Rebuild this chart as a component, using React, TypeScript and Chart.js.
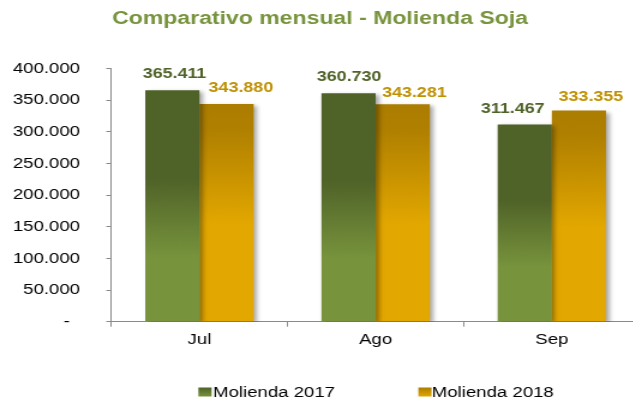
import React, { useEffect, useRef } from 'react';
import { Chart, registerables } from 'chart.js';

Chart.register(...registerables);

// ---- data ----
const months = ['Jul', 'Ago', 'Sep'];
const seriesNames = ['Molienda 2017', 'Molienda 2018'];
const molienda2017 = [365411, 360730, 311467];
const molienda2018 = [343880, 343281, 333355];
const yMin = 0;
const yMax = 400000;
const yStep = 50000;
const zeroTickLabel = '-  ';
const titleText = 'Comparativo mensual - Molienda Soja';

// ---- styling ----
const FONT = "Arial, 'Liberation Sans', sans-serif";
const STRETCH = 1.2; // the reference is horizontally stretched
const CANVAS_W = 540;
const CANVAS_H = 401;
const AXIS_COLOR = '#8a8a8a';

// label nudges relative to each bar (dx in canvas px, dy in px above bar top)
const labelDx = [
  [1.8, 0.5, -10],
  [12, 9.7, 10],
];
const labelDy = [
  [-17.2, -17.4, -17.2],
  [-16.9, -12.9, -14.7],
];

const palettes = [
  {
    stops: [
      [0, '#4F6228'],
      [0.38, '#4F6228'],
      [0.72, '#77933C'],
      [1, '#77933C'],
    ] as [number, string][],
    label: '#4F6228',
  },
  {
    stops: [
      [0, '#AB7D00'],
      [0.12, '#B08000'],
      [0.55, '#E2A700'],
      [1, '#E2A700'],
    ] as [number, string][],
    label: '#BF9000',
  },
];

const fmt = (v: number) =>
  v === 0 ? zeroTickLabel : String(Math.round(v)).replace(/\B(?=(\d{3})+(?!\d))/g, '.');

function barGradient(idx: number) {
  return (ctx: any) => {
    const chart = ctx.chart;
    const { chartArea, scales } = chart;
    const stops = palettes[idx].stops;
    if (!chartArea || !scales || !scales.y || ctx.type !== 'data') return stops[2][1];
    const top = scales.y.getPixelForValue(ctx.raw as number);
    const bottom = scales.y.getPixelForValue(0);
    const g = chart.ctx.createLinearGradient(0, top, 0, bottom);
    stops.forEach(([o, c]) => g.addColorStop(o, c));
    return g;
  };
}

const shadowPlugin = {
  id: 'barShadow',
  beforeDatasetsDraw(chart: any) {
    const c = chart.ctx;
    c.save();
    c.shadowColor = 'rgba(0,0,0,0.35)';
    c.shadowBlur = 4;
    c.shadowOffsetX = 2.5;
    c.shadowOffsetY = 2;
  },
  afterDatasetsDraw(chart: any) {
    chart.ctx.restore();
  },
};

const dataLabelPlugin = {
  id: 'dataLabels',
  afterDatasetsDraw(chart: any) {
    const c = chart.ctx;
    const size = 14.9;
    c.save();
    c.font = `bold ${size}px ${FONT}`;
    c.textAlign = 'center';
    c.textBaseline = 'alphabetic';
    chart.data.datasets.forEach((ds: any, di: number) => {
      const meta = chart.getDatasetMeta(di);
      c.fillStyle = palettes[di].label;
      meta.data.forEach((bar: any, i: number) => {
        const x = bar.x + labelDx[di][i];
        const cy = bar.y + labelDy[di][i];
        c.fillText(fmt(ds.data[i] as number), x, cy + size * 0.358);
      });
    });
    c.restore();
  },
};

const legendPlugin = {
  id: 'customLegend',
  afterDraw(chart: any) {
    const c = chart.ctx;
    const items = [
      { boxX: 165.3, textX: 177.5 },
      { boxX: 348.6, textX: 359.8 },
    ];
    const cy = 392;
    const bw = 11;
    const bh = 9;
    c.save();
    c.font = `15.5px ${FONT}`;
    c.textBaseline = 'middle';
    c.textAlign = 'left';
    chart.data.datasets.forEach((ds: any, di: number) => {
      const it = items[di];
      const g = c.createLinearGradient(0, cy - bh / 2, 0, cy + bh / 2);
      const st = palettes[di].stops;
      g.addColorStop(0, st[0][1]);
      g.addColorStop(1, st[3][1]);
      c.fillStyle = g;
      c.fillRect(it.boxX, cy - bh / 2, bw, bh);
      c.fillStyle = '#000000';
      c.fillText(ds.label, it.textX, cy + 0.5);
    });
    c.restore();
  },
};

export default function App() {
  const ref = useRef<HTMLCanvasElement | null>(null);

  useEffect(() => {
    if (!ref.current) return;
    const chart = new Chart(ref.current, {
      type: 'bar',
      data: {
        labels: months,
        datasets: [
          {
            label: seriesNames[0],
            data: molienda2017,
            backgroundColor: barGradient(0),
            borderWidth: 0,
            barPercentage: 1,
            categoryPercentage: 0.615,
          },
          {
            label: seriesNames[1],
            data: molienda2018,
            backgroundColor: barGradient(1),
            borderWidth: 0,
            barPercentage: 1,
            categoryPercentage: 0.615,
          },
        ],
      },
      options: {
        responsive: false,
        animation: false,
        devicePixelRatio: 1,
        layout: { padding: { left: 0, right: 6.7, top: 0, bottom: 0 } },
        plugins: {
          legend: { display: false },
          tooltip: { enabled: false },
          title: {
            display: true,
            text: titleText,
            color: '#77933C',
            font: { family: FONT, size: 19.2, weight: 'bold' },
            padding: { top: 7.5, bottom: 37.8 },
          },
        },
        scales: {
          x: {
            type: 'category',
            offset: true,
            grid: {
              display: true,
              drawOnChartArea: false,
              drawTicks: true,
              tickLength: 5,
              color: AXIS_COLOR,
              offset: true,
            },
            border: { display: true, color: AXIS_COLOR, width: 1 },
            ticks: {
              color: '#000000',
              font: { family: FONT, size: 15.5 },
              padding: 4,
              maxRotation: 0,
            },
            afterFit: (scale: any) => {
              scale.height = 79.3;
            },
          },
          y: {
            min: yMin,
            max: yMax,
            grid: {
              display: true,
              drawOnChartArea: false,
              drawTicks: true,
              tickLength: 4.2,
              color: AXIS_COLOR,
            },
            border: { display: true, color: AXIS_COLOR, width: 1 },
            ticks: {
              stepSize: yStep,
              color: '#000000',
              font: { family: FONT, size: 15.5 },
              padding: 21.85,
              callback: (v: any) => fmt(Number(v)),
            },
            afterFit: (scale: any) => {
              scale.width = 92.75;
            },
          },
        },
      },
      plugins: [shadowPlugin, dataLabelPlugin, legendPlugin],
    } as any);
    return () => chart.destroy();
  }, []);

  return (
    <div
      style={{
        position: 'absolute',
        left: 0,
        top: 0,
        width: 633,
        height: 401,
        overflow: 'hidden',
        background: '#ffffff',
      }}
    >
      <canvas
        ref={ref}
        width={CANVAS_W}
        height={CANVAS_H}
        style={{ width: `${CANVAS_W * STRETCH}px`, height: `${CANVAS_H}px`, display: 'block' }}
      />
    </div>
  );
}
